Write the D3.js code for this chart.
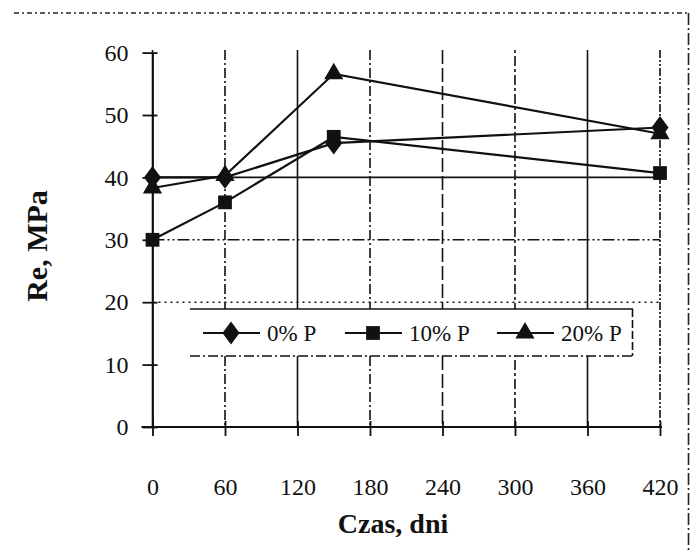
<!DOCTYPE html>
<html>
<head>
<meta charset="utf-8">
<script src="https://cdn.jsdelivr.net/npm/d3@7"></script>
<style>
  html, body { margin: 0; padding: 0; background: #fff; }
  svg { display: block; }
  text { font-family: "Liberation Serif", "Times New Roman", serif; fill: #111; }
</style>
</head>
<body>
<svg id="chart" width="692" height="553"></svg>
<script>
// ---- data ----
const days = [0, 60, 150, 420];
const seriesNames = ["0% P", "10% P", "20% P"];
const p0 = [40, 40, 45.5, 48];
const p10 = [30, 36, 46.5, 40.7];
const p20 = [38.3, 40.3, 56.6, 47];
const xTicks = [0, 60, 120, 180, 240, 300, 360, 420];
const yTicks = [0, 10, 20, 30, 40, 50, 60];
const yGridValues = [20, 30, 40];
const xTitle = "Czas, dni";
const yTitle = "Re, MPa";

// ---- styles (kept separate from data) ----
const vGridDash = ["none", "10,3,2,3", "none", "10,3,2,3", "14,4", "3,3,10,3", "none", "8,2,2,2,2,2"];
const hGridDash = { 20: "2,4", 30: "12,3,2,3,2,3", 40: "none" };
const symbols = [d3.symbolDiamond, d3.symbolSquare, d3.symbolTriangle];
const symbolSizes = [150, 190, 160];
const symbolScaleX = [1.3, 1, 1];

const svg = d3.select("#chart");
const x = d3.scaleLinear().domain([0, 420]).range([152.5, 660]);
const y = d3.scaleLinear().domain([0, 60]).range([427, 52.6]);

// outer frame remnants (top dotted, right dashed)
svg.append("line").attr("x1", 14).attr("x2", 689).attr("y1", 13).attr("y2", 13)
  .attr("stroke", "#222").attr("stroke-width", 1.6).attr("stroke-dasharray", "5,3,2,3");
svg.append("line").attr("x1", 688.5).attr("x2", 688.5).attr("y1", 13).attr("y2", 553)
  .attr("stroke", "#222").attr("stroke-width", 1.6).attr("stroke-dasharray", "12,3,2,3");

// vertical gridlines
svg.append("g").selectAll("line").data(xTicks).join("line")
  .attr("x1", d => x(d)).attr("x2", d => x(d))
  .attr("y1", y(60.4)).attr("y2", y(0))
  .attr("stroke", "#111").attr("stroke-width", 1.6)
  .attr("stroke-dasharray", (d, i) => vGridDash[i]);

// horizontal gridlines
svg.append("g").selectAll("line").data(yGridValues).join("line")
  .attr("x1", x(0)).attr("x2", x(420))
  .attr("y1", d => y(d)).attr("y2", d => y(d))
  .attr("stroke", "#111").attr("stroke-width", 1.6)
  .attr("stroke-dasharray", d => hGridDash[d]);

// y axis
const yAxis = d3.axisLeft(y).tickValues(yTicks).tickSize(0).tickPadding(24)
  .tickFormat(d3.format("d"));
const gy = svg.append("g").attr("transform", `translate(${x(0)},0)`).call(yAxis);
gy.select(".domain").attr("stroke", "#111").attr("stroke-width", 1.8);
gy.selectAll(".tick line").remove();
gy.selectAll(".tick").append("line").attr("x1", -10).attr("x2", 5)
  .attr("stroke", "#111").attr("stroke-width", 1.8);
gy.selectAll(".tick text").attr("font-size", 24).attr("font-family", "Liberation Serif, serif")
  .attr("fill", "#222");

// x axis
const xAxis = d3.axisBottom(x).tickValues(xTicks).tickSize(0).tickPadding(68)
  .tickFormat(d3.format("d"));
const gx = svg.append("g").attr("transform", `translate(0,${y(0)})`).call(xAxis);
gx.select(".domain").attr("stroke", "#111").attr("stroke-width", 1.8)
  .attr("d", `M${x(0) - 11},0H${x(420) + 2}`);
gx.selectAll(".tick line").remove();
gx.selectAll(".tick").append("line").attr("y1", -6).attr("y2", 9)
  .attr("stroke", "#111").attr("stroke-width", 1.8);
gx.selectAll(".tick text").attr("font-size", 24).attr("font-family", "Liberation Serif, serif")
  .attr("fill", "#222").attr("dy", "0");

// axis titles
svg.append("text").attr("x", 393).attr("y", 533).attr("text-anchor", "middle")
  .attr("font-size", 28).attr("font-weight", "bold").text(xTitle);
svg.append("text").attr("transform", "translate(47,246) rotate(-90)")
  .attr("text-anchor", "middle").attr("font-size", 30).attr("font-weight", "bold").text(yTitle);

// series
const seriesData = [p0, p10, p20];
const line = d3.line().x((d, i) => x(days[i])).y(d => y(d));
seriesData.forEach((vals, si) => {
  svg.append("path").datum(vals).attr("d", line)
    .attr("fill", "none").attr("stroke", "#111").attr("stroke-width", 2.2);
});
seriesData.forEach((vals, si) => {
  svg.append("g").selectAll("path").data(vals).join("path")
    .attr("transform", (d, i) => `translate(${x(days[i])},${y(d)}) scale(${symbolScaleX[si]},1)`)
    .attr("d", d3.symbol().type(symbols[si]).size(symbolSizes[si]))
    .attr("fill", "#111");
});

// legend
const lg = svg.append("g");
lg.append("rect").attr("x", 190).attr("y", 309).attr("width", 443).attr("height", 47)
  .attr("fill", "#fff").attr("stroke", "none");
lg.append("line").attr("x1", 190).attr("x2", 633).attr("y1", 309).attr("y2", 309)
  .attr("stroke", "#111").attr("stroke-width", 1.6);
lg.append("line").attr("x1", 190).attr("x2", 633).attr("y1", 356).attr("y2", 356)
  .attr("stroke", "#111").attr("stroke-width", 1.6).attr("stroke-dasharray", "10,3,2,3");
lg.append("line").attr("x1", 632.5).attr("x2", 632.5).attr("y1", 309).attr("y2", 356)
  .attr("stroke", "#111").attr("stroke-width", 1.6).attr("stroke-dasharray", "8,3");
const legendX = [203, 345, 497];
seriesNames.forEach((name, i) => {
  const lx = legendX[i];
  lg.append("line").attr("x1", lx).attr("x2", lx + 57).attr("y1", 333).attr("y2", 333)
    .attr("stroke", "#111").attr("stroke-width", 2.2);
  lg.append("path").attr("transform", `translate(${lx + 28},333) scale(${symbolScaleX[i]},1)`)
    .attr("d", d3.symbol().type(symbols[i]).size(symbolSizes[i])).attr("fill", "#111");
  lg.append("text").attr("x", lx + 64).attr("y", 341).attr("font-size", 23)
    .attr("fill", "#222").text(name);
});
</script>
</body>
</html>
